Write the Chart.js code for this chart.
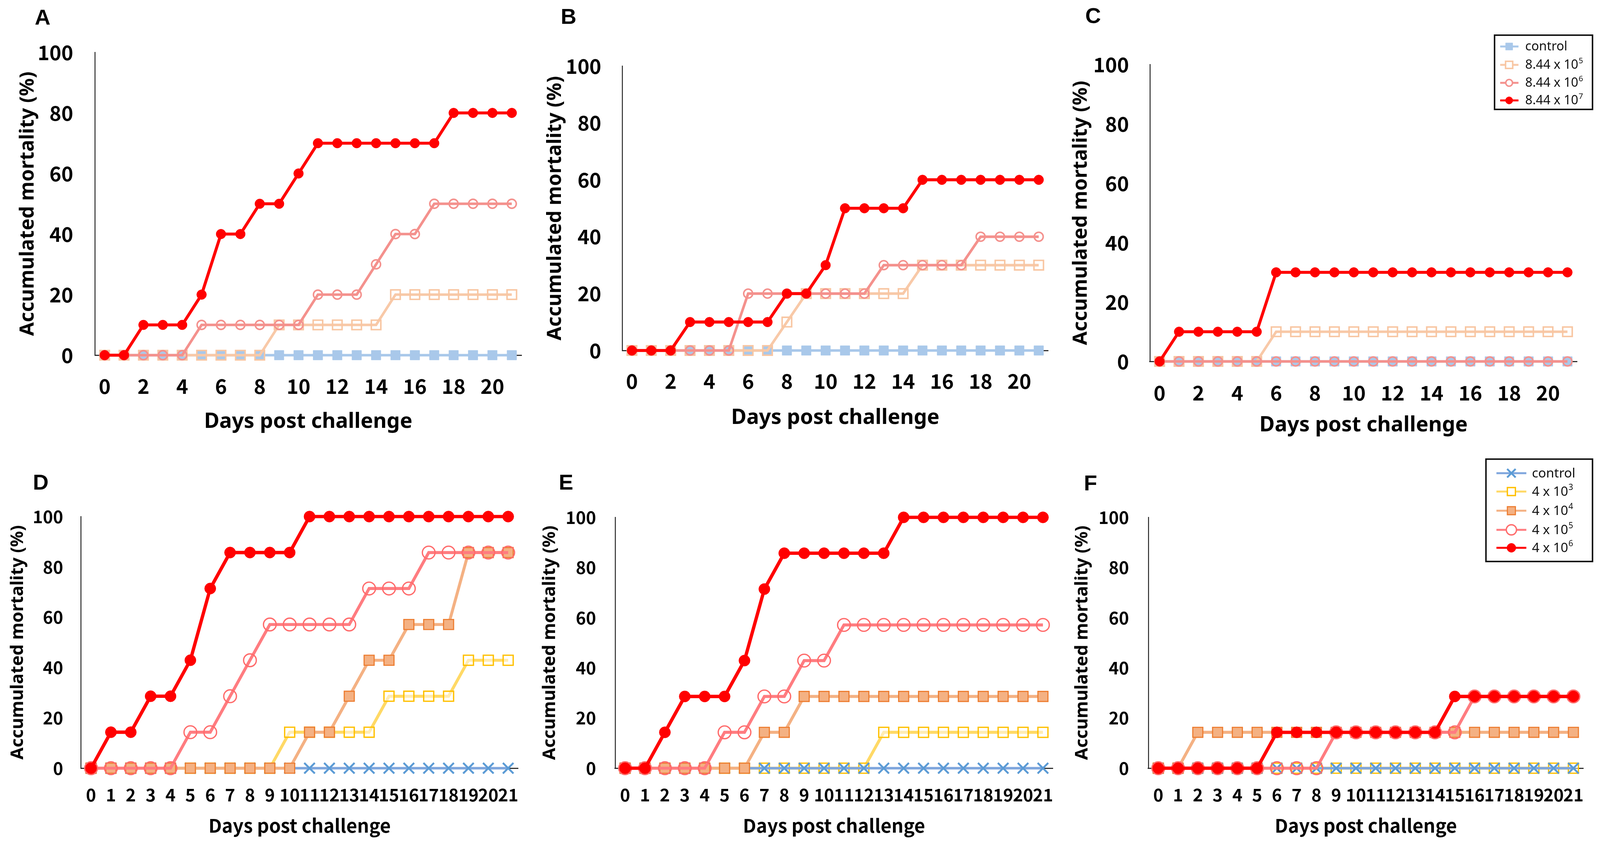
<!DOCTYPE html>
<html>
<head>
<meta charset="utf-8">
<script src="https://cdn.jsdelivr.net/npm/chart.js@4/dist/chart.umd.min.js"></script>
<style>
  html, body { margin: 0; padding: 0; background: #fff; }
  body { position: relative; width: 100vw; height: 100vh; overflow: hidden; }
  canvas { position: absolute; }
  .panel-letter { position: absolute; font-family: 'Liberation Sans', Arial, sans-serif; font-weight: bold; color: #000; transform: translate(-50%, -50%); line-height: 1; }
</style>
</head>
<body>
<script>
// ---------------- DATA ----------------
const days = ['0','1','2','3','4','5','6','7','8','9','10','11','12','13','14','15','16','17','18','19','20','21'];
const topTickLabels = ['0','2','4','6','8','10','12','14','16','18','20'];
const bottomTickLabels = days;

const topSeriesNames = ['control', '8.44 x 10', '8.44 x 10', '8.44 x 10'];
const topSeriesSup   = ['', '5', '6', '7'];
const bottomSeriesNames = ['control', '4 x 10', '4 x 10', '4 x 10', '4 x 10'];
const bottomSeriesSup   = ['', '3', '4', '5', '6'];

// Panel A
const aControl = [0,0,0,0,0,0,0,0,0,0,0,0,0,0,0,0,0,0,0,0,0,0];
const aE5 = [0,0,0,0,0,0,0,0,0,10,10,10,10,10,10,20,20,20,20,20,20,20];
const aE6 = [0,0,0,0,0,10,10,10,10,10,10,20,20,20,30,40,40,50,50,50,50,50];
const aE7 = [0,0,10,10,10,20,40,40,50,50,60,70,70,70,70,70,70,70,80,80,80,80];
// Panel B
const bControl = [0,0,0,0,0,0,0,0,0,0,0,0,0,0,0,0,0,0,0,0,0,0];
const bE5 = [0,0,0,0,0,0,0,0,10,20,20,20,20,20,20,30,30,30,30,30,30,30];
const bE6 = [0,0,0,0,0,0,20,20,20,20,20,20,20,30,30,30,30,30,40,40,40,40];
const bE7 = [0,0,0,10,10,10,10,10,20,20,30,50,50,50,50,60,60,60,60,60,60,60];
// Panel C
const cControl = [0,0,0,0,0,0,0,0,0,0,0,0,0,0,0,0,0,0,0,0,0,0];
const cE5 = [0,0,0,0,0,0,10,10,10,10,10,10,10,10,10,10,10,10,10,10,10,10];
const cE6 = [0,0,0,0,0,0,0,0,0,0,0,0,0,0,0,0,0,0,0,0,0,0];
const cE7 = [0,10,10,10,10,10,30,30,30,30,30,30,30,30,30,30,30,30,30,30,30,30];
// Panel D
const dControl = [0,0,0,0,0,0,0,0,0,0,0,0,0,0,0,0,0,0,0,0,0,0];
const dE3 = [0,0,0,0,0,0,0,0,0,0,14.3,14.3,14.3,14.3,14.3,28.6,28.6,28.6,28.6,42.9,42.9,42.9];
const dE4 = [0,0,0,0,0,0,0,0,0,0,0,14.3,14.3,28.6,42.9,42.9,57.1,57.1,57.1,85.7,85.7,85.7];
const dE5 = [0,0,0,0,0,14.3,14.3,28.6,42.9,57.1,57.1,57.1,57.1,57.1,71.4,71.4,71.4,85.7,85.7,85.7,85.7,85.7];
const dE6 = [0,14.3,14.3,28.6,28.6,42.9,71.4,85.7,85.7,85.7,85.7,100,100,100,100,100,100,100,100,100,100,100];
// Panel E
const eControl = [0,0,0,0,0,0,0,0,0,0,0,0,0,0,0,0,0,0,0,0,0,0];
const eE3 = [0,0,0,0,0,0,0,0,0,0,0,0,0,14.3,14.3,14.3,14.3,14.3,14.3,14.3,14.3,14.3];
const eE4 = [0,0,0,0,0,0,0,14.3,14.3,28.6,28.6,28.6,28.6,28.6,28.6,28.6,28.6,28.6,28.6,28.6,28.6,28.6];
const eE5 = [0,0,0,0,0,14.3,14.3,28.6,28.6,42.9,42.9,57.1,57.1,57.1,57.1,57.1,57.1,57.1,57.1,57.1,57.1,57.1];
const eE6 = [0,0,14.3,28.6,28.6,28.6,42.9,71.4,85.7,85.7,85.7,85.7,85.7,85.7,100,100,100,100,100,100,100,100];
// Panel F
const fControl = [0,0,0,0,0,0,0,0,0,0,0,0,0,0,0,0,0,0,0,0,0,0];
const fE3 = [0,0,0,0,0,0,0,0,0,0,0,0,0,0,0,0,0,0,0,0,0,0];
const fE4 = [0,0,14.3,14.3,14.3,14.3,14.3,14.3,14.3,14.3,14.3,14.3,14.3,14.3,14.3,14.3,14.3,14.3,14.3,14.3,14.3,14.3];
const fE5 = [0,0,0,0,0,0,0,0,0,14.3,14.3,14.3,14.3,14.3,14.3,14.3,28.6,28.6,28.6,28.6,28.6,28.6];
const fE6 = [0,0,0,0,0,0,14.3,14.3,14.3,14.3,14.3,14.3,14.3,14.3,14.3,28.6,28.6,28.6,28.6,28.6,28.6,28.6];

// ---------------- PAGE SCALE (design is 4280 x 2160) ----------------
const vw = document.documentElement.clientWidth || window.innerWidth || 4280;
const vh = document.documentElement.clientHeight || window.innerHeight || 2160;
const SX = vw / 4280;
const SY = vh / 2160;
const X = v => v * SX, Y = v => v * SY, F = v => v * SX;

// ---------------- STYLES ----------------
const topStyles = [
  { borderColor: '#a9c8ea', borderWidth: 7, pointStyle: 'rect', pointRadius: 18, pointBackgroundColor: '#a9c8ea', pointBorderColor: '#a9c8ea', pointBorderWidth: 1, order: 4 },
  { borderColor: '#f8c9a8', borderWidth: 7, pointStyle: 'rect', pointRadius: 18, pointBackgroundColor: 'rgba(255,255,255,0)', pointBorderColor: '#f8c6a2', pointBorderWidth: 4, order: 3 },
  { borderColor: '#f4918d', borderWidth: 7, pointStyle: 'circle', pointRadius: 12, pointBackgroundColor: 'rgba(255,255,255,0)', pointBorderColor: '#f4918d', pointBorderWidth: 4, order: 2 },
  { borderColor: '#ff0000', borderWidth: 8, pointStyle: 'circle', pointRadius: 13, pointBackgroundColor: '#ff0000', pointBorderColor: '#ff0000', pointBorderWidth: 1, order: 1 }
];
const bottomStyles = [
  { borderColor: '#7fa6dd', borderWidth: 7, pointStyle: 'crossRot', pointRadius: 20, pointBackgroundColor: '#5b9bd5', pointBorderColor: '#5b9bd5', pointBorderWidth: 5, order: 4 },
  { borderColor: '#ffd966', borderWidth: 8, pointStyle: 'rect', pointRadius: 19, pointBackgroundColor: 'rgba(255,255,255,0.5)', pointBorderColor: '#ffc000', pointBorderWidth: 3.5, order: 5 },
  { borderColor: '#f4b183', borderWidth: 8, pointStyle: 'rect', pointRadius: 19, pointBackgroundColor: '#f4b183', pointBorderColor: '#ed7d31', pointBorderWidth: 3, order: 3 },
  { borderColor: '#ff7c80', borderWidth: 8, pointStyle: 'circle', pointRadius: 17, pointBackgroundColor: 'rgba(255,255,255,0)', pointBorderColor: '#ff6b6b', pointBorderWidth: 3.5, order: 2 },
  { borderColor: '#ff0000', borderWidth: 9, pointStyle: 'circle', pointRadius: 15, pointBackgroundColor: '#ff0000', pointBorderColor: '#ff0000', pointBorderWidth: 1, order: 1 }
];

function buildDatasets(seriesList, names, styles) {
  return seriesList.map((vals, i) => {
    const st = styles[i];
    return {
      label: names[i], data: vals, tension: 0, clip: false, fill: false,
      borderColor: st.borderColor, borderWidth: F(st.borderWidth),
      pointStyle: st.pointStyle, pointRadius: F(st.pointRadius), pointHoverRadius: F(st.pointRadius),
      pointBackgroundColor: st.pointBackgroundColor, pointBorderColor: st.pointBorderColor,
      pointBorderWidth: F(st.pointBorderWidth), order: st.order
    };
  });
}

// ---------------- MARKERS / LEGEND ----------------
function drawMarker(ctx, style, r, x, y, fillC, strokeC, bw) {
  ctx.save();
  ctx.lineWidth = bw; ctx.strokeStyle = strokeC; ctx.fillStyle = fillC;
  ctx.beginPath();
  if (style === 'circle') {
    ctx.arc(x, y, r, 0, Math.PI * 2); ctx.fill(); ctx.stroke();
  } else if (style === 'rect') {
    const s = r * Math.SQRT1_2;
    ctx.rect(x - s, y - s, 2 * s, 2 * s); ctx.fill(); ctx.stroke();
  } else if (style === 'crossRot') {
    const o = r * Math.SQRT1_2;
    ctx.moveTo(x - o, y - o); ctx.lineTo(x + o, y + o);
    ctx.moveTo(x - o, y + o); ctx.lineTo(x + o, y - o);
    ctx.stroke();
  }
  ctx.restore();
}

function legendPlugin(lg, spec, names, sups) {
  return {
    id: 'boxLegend',
    afterDatasetsDraw(chart) {
      const ctx = chart.ctx;
      ctx.save();
      ctx.translate(-X(spec.x0), -Y(spec.y0));
      const l = X(lg.left), t = Y(lg.top), r = X(lg.right), b = Y(lg.bottom);
      ctx.fillStyle = '#fff';
      ctx.fillRect(l, t, r - l, b - t);
      ctx.lineWidth = F(4); ctx.strokeStyle = '#111';
      ctx.strokeRect(l, t, r - l, b - t);
      const fs = F(lg.fontSize);
      chart.data.datasets.forEach((ds, i) => {
        const y = Y(lg.rows[i]);
        ctx.strokeStyle = ds.borderColor; ctx.lineWidth = F(lg.lineW);
        ctx.beginPath(); ctx.moveTo(X(lg.lineX0), y); ctx.lineTo(X(lg.lineX1), y); ctx.stroke();
        let fillC = ds.pointBackgroundColor;
        if (fillC.indexOf('rgba(255,255,255') === 0) fillC = '#fff';
        drawMarker(ctx, ds.pointStyle, ds.pointRadius * lg.markScale, X(lg.markX), y, fillC, ds.pointBorderColor, ds.pointBorderWidth);
        ctx.fillStyle = '#111';
        ctx.textBaseline = 'middle'; ctx.textAlign = 'left';
        ctx.font = fs + 'px "Noto Sans", sans-serif';
        ctx.fillText(names[i], X(lg.textX), y + 1);
        if (sups[i]) {
          const w = ctx.measureText(names[i]).width;
          ctx.font = Math.round(fs * 0.62) + 'px "Noto Sans", sans-serif';
          ctx.fillText(sups[i], X(lg.textX) + w + 1, y - fs * 0.3);
        }
      });
      ctx.restore();
    }
  };
}

// ---------------- PANEL BUILDER ----------------
function makePanel(spec, datasets, tickSet, legend, names, sups) {
  const x0 = X(spec.x0), y0 = Y(spec.y0);
  const w = Math.round(X(spec.x0 + spec.w) - x0), h = Math.round(Y(spec.y0 + spec.h) - y0);
  const L = X(spec.L), R = X(spec.R), T = Y(spec.T), B = Y(spec.B);
  const tickFs = F(spec.tickFs), xTitleFs = F(spec.xTitleFs), yTitleFs = F(spec.yTitleFs);

  const c = document.createElement('canvas');
  c.width = w; c.height = h;
  c.style.left = x0 + 'px'; c.style.top = y0 + 'px';
  c.style.width = w + 'px'; c.style.height = h + 'px';
  document.body.appendChild(c);

  const lhX = xTitleFs * 1.2;
  const lhY = yTitleFs * 1.2;
  const plugins = legend ? [legendPlugin(legend, spec, names, sups)] : [];

  new Chart(c, {
    type: 'line',
    data: { labels: days, datasets: datasets },
    plugins: plugins,
    options: {
      responsive: false, animation: false, devicePixelRatio: 1,
      events: [],
      layout: { padding: { left: 0, top: T - y0, right: x0 + w - R, bottom: 0 } },
      plugins: { legend: { display: false }, tooltip: { enabled: false }, title: { display: false } },
      scales: {
        x: {
          type: 'category', offset: true,
          grid: { display: false, drawTicks: false },
          border: { display: true, color: '#222', width: F(3) },
          ticks: {
            autoSkip: false, maxRotation: 0, minRotation: 0,
            padding: Y(spec.xTickY) - B - 0.6 * tickFs,
            color: '#000',
            font: { family: '"Noto Sans CJK KR", "Noto Sans", sans-serif', size: tickFs, weight: 'bold', lineHeight: 1.2 },
            callback: function (value, index) { return tickSet.includes(days[index]) ? days[index] : ''; }
          },
          title: {
            display: true, text: 'Days post challenge', color: '#000',
            font: { family: spec.xTitleFamily, size: xTitleFs, weight: 'bold', lineHeight: 1.2 },
            padding: { top: 0, bottom: Math.max(0, y0 + h - Y(spec.xTitleY) - lhX / 2) }
          },
          afterFit: function (s) { s.height = y0 + h - B; }
        },
        y: {
          min: 0, max: 100,
          grid: { display: false, drawTicks: false },
          border: { display: true, color: '#222', width: F(2.5) },
          ticks: {
            stepSize: 20, padding: L - X(spec.yTickRight), color: '#000',
            font: { family: '"Noto Sans CJK KR", "Noto Sans", sans-serif', size: tickFs, weight: 'bold', lineHeight: 1.2 }
          },
          title: {
            display: true, text: 'Accumulated mortality (%)', color: '#000',
            font: { family: '"Noto Sans", sans-serif', size: yTitleFs, weight: 'bold', lineHeight: 1.2 },
            padding: { top: Math.max(0, X(spec.yTitleX) - x0 - lhY / 2), bottom: 0 }
          },
          afterFit: function (s) { s.width = L - x0; }
        }
      }
    }
  });

  const d = document.createElement('div');
  d.className = 'panel-letter';
  d.textContent = spec.letter;
  d.style.fontSize = F(58) + 'px';
  d.style.left = X(spec.letterX) + 'px'; d.style.top = Y(spec.letterY) + 'px';
  document.body.appendChild(d);
}

const topFam = '"Noto Sans", sans-serif';
const botFam = '"Noto Sans CJK KR", "Noto Sans", sans-serif';

const specA = { letter: 'A', letterX: 114, letterY: 45, x0: 0, y0: 0, w: 1430, h: 1140, L: 254, T: 134, R: 1395, B: 909, yTitleX: 75, yTickRight: 196, xTickY: 988, xTitleY: 1080, tickFs: 54, yTitleFs: 53, xTitleFs: 56, xTitleFamily: topFam };
const specB = { letter: 'B', letterX: 1521, letterY: 43, x0: 1430, y0: 0, w: 1430, h: 1140, L: 1664, T: 169, R: 2804, B: 897, yTitleX: 1485, yTickRight: 1608, xTickY: 975, xTitleY: 1070, tickFs: 54, yTitleFs: 53, xTitleFs: 56, xTitleFamily: topFam };
const specC = { letter: 'C', letterX: 2924, letterY: 41, x0: 2860, y0: 0, w: 1420, h: 1140, L: 3076, T: 165, R: 4219, B: 925, yTitleX: 2892, yTickRight: 3020, xTickY: 1005, xTitleY: 1089, tickFs: 54, yTitleFs: 53, xTitleFs: 56, xTitleFamily: topFam };
const specD = { letter: 'D', letterX: 109, letterY: 1235, x0: 0, y0: 1080, w: 1430, h: 1080, L: 217, T: 1322, R: 1413, B: 1966, yTitleX: 48, yTickRight: 169, xTickY: 2034, xTitleY: 2113, tickFs: 46, yTitleFs: 47, xTitleFs: 50, xTitleFamily: botFam };
const specE = { letter: 'E', letterX: 1514, letterY: 1235, x0: 1430, y0: 1080, w: 1430, h: 1080, L: 1645, T: 1324, R: 2839, B: 1966, yTitleX: 1471, yTickRight: 1594, xTickY: 2034, xTitleY: 2113, tickFs: 46, yTitleFs: 47, xTitleFs: 50, xTitleFamily: botFam };
const specF = { letter: 'F', letterX: 2917, letterY: 1237, x0: 2860, y0: 1080, w: 1420, h: 1080, L: 3072, T: 1324, R: 4273, B: 1966, yTitleX: 2896, yTickRight: 3020, xTickY: 2034, xTitleY: 2113, tickFs: 46, yTitleFs: 47, xTitleFs: 50, xTitleFamily: botFam };

const legendC = { left: 3998, top: 90, right: 4260, bottom: 280, rows: [119, 166, 212, 257], lineX0: 4013, lineX1: 4062, markX: 4037, textX: 4080, fontSize: 34, lineW: 5, markScale: 0.75 };
const legendF = { left: 3975, top: 1175, right: 4260, bottom: 1437, rows: [1211, 1258, 1307, 1356, 1402], lineX0: 4003, lineX1: 4083, markX: 4043, textX: 4098, fontSize: 35, lineW: 5, markScale: 0.8 };

makePanel(specA, buildDatasets([aControl, aE5, aE6, aE7], topSeriesNames, topStyles), topTickLabels);
makePanel(specB, buildDatasets([bControl, bE5, bE6, bE7], topSeriesNames, topStyles), topTickLabels);
makePanel(specC, buildDatasets([cControl, cE5, cE6, cE7], topSeriesNames, topStyles), topTickLabels, legendC, topSeriesNames, topSeriesSup);
makePanel(specD, buildDatasets([dControl, dE3, dE4, dE5, dE6], bottomSeriesNames, bottomStyles), bottomTickLabels);
makePanel(specE, buildDatasets([eControl, eE3, eE4, eE5, eE6], bottomSeriesNames, bottomStyles), bottomTickLabels);
makePanel(specF, buildDatasets([fControl, fE3, fE4, fE5, fE6], bottomSeriesNames, bottomStyles), bottomTickLabels, legendF, bottomSeriesNames, bottomSeriesSup);
</script>
</body>
</html>
